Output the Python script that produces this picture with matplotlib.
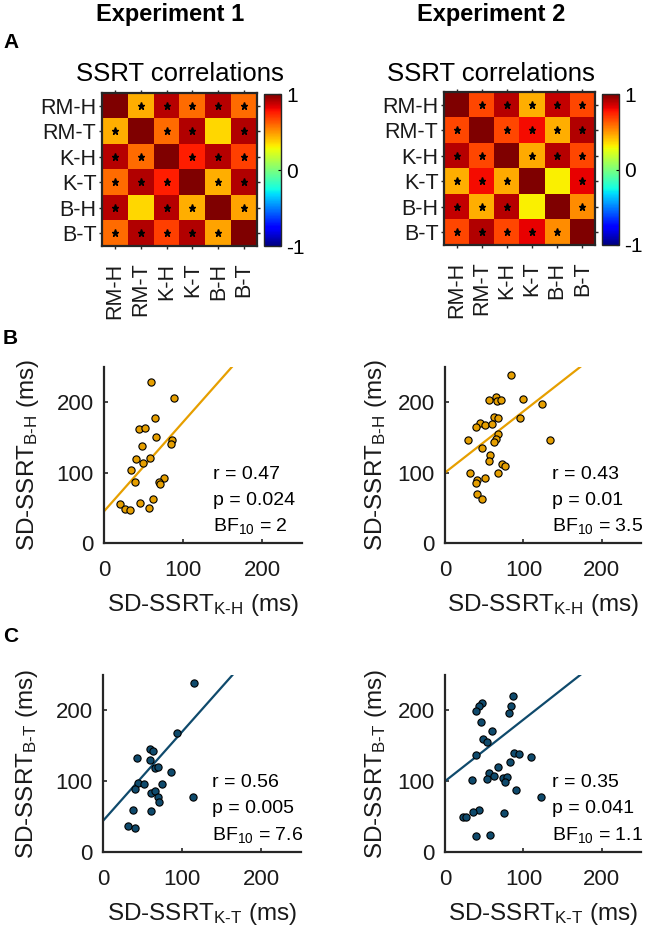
import numpy as np
import matplotlib
matplotlib.use('Agg')
import matplotlib.pyplot as plt

plt.rcParams['font.family'] = ['Liberation Sans', 'DejaVu Sans']
plt.rcParams['mathtext.fontset'] = 'custom'
plt.rcParams['mathtext.rm'] = 'Liberation Sans'
plt.rcParams['mathtext.it'] = 'Liberation Sans:italic'
plt.rcParams['mathtext.bf'] = 'Liberation Sans:bold'

# ---- data ----
labels = ['RM-H', 'RM-T', 'K-H', 'K-T', 'B-H', 'B-T']

corr_exp1 = [[1.00, 0.45, 0.90, 0.59, 0.90, 0.59],
             [0.45, 1.00, 0.59, 0.91, 0.36, 0.91],
             [0.90, 0.59, 1.00, 0.75, 0.90, 0.68],
             [0.59, 0.91, 0.75, 1.00, 0.45, 0.91],
             [0.90, 0.36, 0.90, 0.45, 1.00, 0.47],
             [0.59, 0.91, 0.68, 0.91, 0.47, 1.00]]
# 1 = significant (star)
sig_exp1 = [[0, 1, 1, 1, 1, 1],
            [1, 0, 1, 1, 0, 1],
            [1, 1, 0, 1, 1, 1],
            [1, 1, 1, 0, 1, 1],
            [1, 0, 1, 1, 0, 1],
            [1, 1, 1, 1, 1, 0]]

corr_exp2 = [[1.00, 0.67, 0.90, 0.45, 0.88, 0.67],
             [0.67, 1.00, 0.67, 0.79, 0.45, 0.91],
             [0.90, 0.67, 1.00, 0.46, 0.90, 0.67],
             [0.45, 0.79, 0.46, 1.00, 0.31, 0.82],
             [0.88, 0.45, 0.90, 0.31, 1.00, 0.52],
             [0.67, 0.91, 0.67, 0.82, 0.52, 1.00]]
sig_exp2 = [[0, 1, 1, 1, 1, 1],
            [1, 0, 1, 1, 1, 1],
            [1, 1, 0, 1, 1, 1],
            [1, 1, 1, 0, 0, 1],
            [1, 1, 1, 0, 0, 1],
            [1, 1, 1, 1, 1, 0]]

# Experiment 1, hand condition: SD-SSRT K-H vs B-H
kh1 = [59, 89, 44, 52, 65, 66, 86, 85, 48, 40, 58, 49, 34, 39, 76, 70, 71, 20, 26, 33, 46, 62, 57]
bh1 = [229, 206, 162, 163, 178, 151, 147, 140, 138, 120, 121, 114, 103, 86, 93, 86, 84, 56, 49, 47, 57, 62, 50]

# Experiment 2, hand condition
kh2 = [84, 56, 65, 66, 72, 100, 124, 62, 67, 96, 45, 40, 51, 60, 67, 65, 63, 29, 134, 47,
       57, 56, 73, 76, 32, 68, 51, 41, 40, 41, 47]
bh2 = [238, 203, 207, 201, 203, 205, 197, 179, 177, 177, 170, 165, 167, 169, 155, 148, 143, 146, 147, 135,
       125, 116, 112, 109, 99, 99, 93, 90, 85, 69, 63]

# Experiment 1, tone condition: SD-SSRT K-T vs B-T
kt1 = [115, 94, 59, 63, 43, 59, 66, 69, 86, 44, 52, 75, 41, 60, 66, 69, 71, 114, 38, 60, 32, 41]
bt1 = [239, 168, 146, 142, 133, 130, 119, 120, 113, 98, 96, 96, 89, 83, 86, 77, 71, 77, 60, 58, 37, 34]

# Experiment 2, tone condition
kt2 = [87, 47, 43, 40, 84, 82, 46, 60, 49, 54, 40, 88, 95, 110, 83, 68, 56, 62, 74, 79,
       53, 77, 34, 90, 123, 44, 36, 75, 23, 27, 40, 57]
bt2 = [221, 211, 206, 199, 206, 197, 183, 171, 160, 155, 137, 140, 139, 134, 127, 120, 112, 108, 105, 106,
       103, 99, 102, 88, 78, 60, 57, 55, 49, 49, 22, 24]

# regression lines (intercept, slope) as drawn
fit_hand = [(45, 1.27), (100, 0.87)]
fit_tone = [(44, 1.26), (100, 0.87)]

stats_hand = [('0.47', '0.024', '2'), ('0.43', '0.01', '3.5')]
stats_tone = [('0.56', '0.005', '7.6'), ('0.35', '0.041', '1.1')]

orange = '#E69F00'
navy = '#0F4A6C'
spine_col = '#262626'
txt_col = '#1a1a1a'

W, H = 646, 939
fig = plt.figure(figsize=(W / 100, H / 100), dpi=100)


def px_axes(x0, y0, x1, y1):
    return fig.add_axes([x0 / W, 1 - y1 / H, (x1 - x0) / W, (y1 - y0) / H])


# ---- headers ----
fig.text(170 / W, 1 - 15 / H, 'Experiment 1', ha='center', va='center', fontsize=17, fontweight='bold')
fig.text(491 / W, 1 - 15 / H, 'Experiment 2', ha='center', va='center', fontsize=17, fontweight='bold')
fig.text(3 / W, 1 - 42 / H, 'A', ha='left', va='center', fontsize=15, fontweight='bold')
fig.text(3 / W, 1 - 338 / H, 'B', ha='left', va='center', fontsize=15, fontweight='bold')
fig.text(3 / W, 1 - 636 / H, 'C', ha='left', va='center', fontsize=15, fontweight='bold')


def heatmap(box, cbox, title_x, corr, sig):
    ax = px_axes(*box)
    im = ax.imshow(np.array(corr), cmap='jet', vmin=-1, vmax=1, aspect='auto', interpolation='nearest')
    sg = np.array(sig)
    rr, cc = np.nonzero(sg)
    ax.plot(cc, rr, linestyle='none', marker='*', color='black', markersize=5.2)
    ax.set_xticks(range(len(labels)))
    ax.set_yticks(range(len(labels)))
    ax.set_xticklabels(labels, rotation=90, fontsize=15.5)
    ax.set_yticklabels(labels, fontsize=15.5)
    ax.tick_params(direction='out', length=2, width=1, color=spine_col, top=True, right=True,
                   labelcolor=txt_col)
    ax.tick_params(axis='x', pad=10)
    ax.tick_params(axis='y', pad=2)
    for s in ax.spines.values():
        s.set_linewidth(1.6)
        s.set_color(spine_col)
    fig.text(title_x / W, 1 - 81 / H, 'SSRT correlations', ha='center', va='baseline', fontsize=18.5)
    cax = px_axes(*cbox)
    cb = fig.colorbar(im, cax=cax, ticks=[-1, 0, 1])
    cb.ax.set_yticklabels(['-1', '0', '1'], fontsize=15)
    cb.ax.tick_params(direction='in', length=2, width=0.8, pad=4)
    cb.outline.set_linewidth(1.0)
    cb.outline.set_edgecolor(spine_col)
    return ax


heatmap((102, 93, 257, 246), (264, 94, 281, 246), 180, corr_exp1, sig_exp1)
heatmap((444, 92, 595, 245), (602, 94, 619, 245), 491, corr_exp2, sig_exp2)


def scatter_panel(box, x, y, fit, stats, color, xsub, ysub, ypad):
    ax = px_axes(*box)
    ax.scatter(x, y, s=27, color=color, edgecolor='black', linewidth=0.8, zorder=3)
    b0, b1 = fit
    xe = (250 - b0) / b1
    xs = np.array([0, xe])
    ax.plot(xs, b0 + b1 * xs, color=color, linewidth=1.6, zorder=2)
    ax.set_xlim(0, 250)
    ax.set_ylim(0, 250)
    ax.set_xticks([0, 100, 200])
    ax.set_yticks([0, 100, 200])
    ax.tick_params(direction='in', length=3, width=1.2, color=spine_col, labelsize=16,
                   labelcolor=txt_col)
    ax.tick_params(axis='x', pad=12)
    ax.tick_params(axis='y', pad=7.5)
    for side in ['top', 'right']:
        ax.spines[side].set_visible(False)
    for side in ['left', 'bottom']:
        ax.spines[side].set_linewidth(1.6)
        ax.spines[side].set_color(spine_col)
    ax.set_xlabel('SD-SSRT$_{\\mathrm{' + xsub + '}}$ (ms)', fontsize=17.5, labelpad=8, color=txt_col)
    ax.set_ylabel('SD-SSRT$_{\\mathrm{' + ysub + '}}$ (ms)', fontsize=17.5, labelpad=ypad, color=txt_col)
    r, p, bf = stats
    ax.text(137, 98, 'r = ' + r, fontsize=14, va='center', ha='left', clip_on=False)
    ax.text(137, 61, 'p = ' + p, fontsize=14, va='center', ha='left', clip_on=False)
    ax.text(137, 24, 'BF$_{\\mathrm{10}}$ = ' + bf, fontsize=14, va='center', ha='left', clip_on=False)
    return ax


scatter_panel((104, 367, 302, 543), kh1, bh1, fit_hand[0], stats_hand[0], orange, 'K\u2010H', 'B\u2010H', 11)
scatter_panel((445, 367, 641, 543), kh2, bh2, fit_hand[1], stats_hand[1], orange, 'K\u2010H', 'B\u2010H', 6)
scatter_panel((103, 675, 301, 852), kt1, bt1, fit_tone[0], stats_tone[0], navy, 'K\u2010T', 'B\u2010T', 11)
scatter_panel((445, 675, 641, 852), kt2, bt2, fit_tone[1], stats_tone[1], navy, 'K\u2010T', 'B\u2010T', 6)

fig.savefig('out.png', dpi=100)
